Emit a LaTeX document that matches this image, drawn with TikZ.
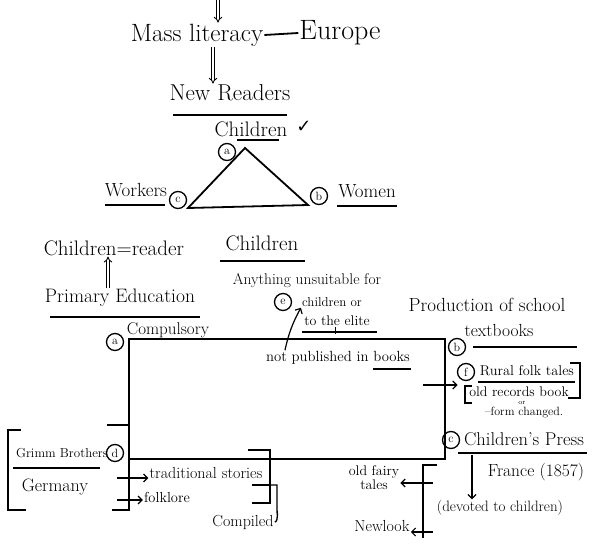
\documentclass[tikz,border=0pt]{standalone}
\usepackage{fontspec}
\newfontfamily\symfont{DejaVu Sans}
\usetikzlibrary{arrows.meta}
\newcommand{\fsz}[1]{\fontsize{#1}{#1}\selectfont}
\tikzset{
  txt/.style={inner sep=1pt, align=center},
  uline/.style={line width=1.3pt},
  pen/.style={line width=1.8pt},
  circ/.style={circle, draw, line width=1.3pt, inner sep=0pt, minimum size=17pt, font=\fsz{12}},
  dbl/.style={double, double distance=2pt, line width=0.9pt, -{Implies}},
  arr/.style={line width=1.2pt, -{Straight Barb[length=4pt]}}
}
\begin{document}
\begin{tikzpicture}[x=1pt, y=-1pt]
    \fill[white] (0,0) rectangle (605,551);
    \useasboundingbox (0,0) rectangle (605,551);

    % Mass literacy -- Europe
    \coordinate (topin) at (218,0);
    \coordinate (dn) at (213,0);
    \node[txt, font=\fsz{25}] (mass) at (197,35) {Mass literacy};
    \node[txt, font=\fsz{28}] (europe) at (340,33) {Europe};
    \draw[dbl] (topin) -- (topin |- mass.north);
    \draw[pen] (mass.east) -- (europe.west);

    % New Readers
    \node[txt, font=\fsz{23}] (readers) at (230,93) {New Readers};
    \draw[dbl] (dn |- mass.south) -- (dn |- readers.north);
    \draw[uline] (173,115) -- (287,115);

    % Children triangle
    \node[txt, font=\fsz{21}] (kids) at (251,129) {Children};
    \node[txt, font=\fsz{18}\symfont] (tick) at (304,127) {✓};
    \draw[uline] (237,140) -- (279,140);
    \coordinate (apex) at (245,148);
    \coordinate (lv) at (188,208);
    \coordinate (rv) at (308,205);
    \draw[pen] (apex) -- (lv) -- (rv) -- cycle;
    \node[circ] (ta) at (227,152) {a};
    \node[circ] (tc) at (178,200) {c};
    \node[circ] (tb) at (319,196) {b};
    \node[txt, font=\fsz{19}] (workers) at (136,190) {Workers};
    \draw[uline] (105,205) -- (165,205);
    \node[txt, font=\fsz{19}] (women) at (367,191) {Women};
    \draw[uline] (337,206) -- (397,206);

    % Children = reader, Primary Education
    \node[txt, font=\fsz{21}] (kidread) at (114,248) {Children=reader};
    \node[txt, font=\fsz{21}] (kids2) at (262,243) {Children};
    \draw[uline] (220,261) -- (305,261);
    \node[txt, font=\fsz{19.5}] (primary) at (120,298) {Primary Education};
    \coordinate (up) at (108,0);
    \draw[dbl] (up |- primary.north) -- (up |- kidread.south);
    \draw[uline] (50,317) -- (200,317);
    \node[txt, font=\fsz{17}] (compul) at (168,330) {Compulsory};

    % Rectangle
    \coordinate (tl) at (129,339);
    \coordinate (tr) at (445,339);
    \coordinate (br) at (445,459);
    \coordinate (bl) at (129,459);
    \draw[pen] (tl) -- (tr) -- (br) -- (bl) -- cycle;
    \node[circ] (ra) at (115,342) {a};

    % Anything unsuitable ...
    \node[txt, font=\fsz{15.5}] (unsuit) at (307,281) {Anything unsuitable for};
    \node[txt, font=\fsz{13}] (childor) at (332,302) {children or};
    \node[circ] (re) at (283,302) {e};
    \node[txt, font=\fsz{14}] (elite) at (337,321) {to the elite};
    \draw[uline] (302,332) -- (377,332);
    \node[txt, font=\fsz{14.7}] (notpub) at (338,358) {not published in books};
    \draw[uline] (373,369) -- (411,369);
    \draw[arr] ([xshift=20pt]notpub.north west) to[bend left=8] (childor.south west);
    \draw[line width=1pt] (elite.south -| 335,0) -- ++(0,7);

    % Production of school textbooks
    \node[txt, font=\fsz{19}] (prod) at (487,305) {Production of school};
    \node[txt, font=\fsz{17.5}] (textb) at (499,330) {textbooks};
    \draw[uline] (473,347) -- (577,347);
    \node[circ] (rb) at (457,347) {b};

    % Rural folk tales
    \coordinate (fin) at (423,385);
    \node[circ] (rf) at (466,372) {f};
    \node[txt, font=\fsz{14.3}] (rural) at (527,371) {Rural folk tales};
    \draw[uline] (478,382) -- (575,382);
    \node[txt, font=\fsz{14}] (records) at (519,392) {old records book};
    \draw[arr] (fin) -- ([xshift=-2pt]rf.south west |- fin);
    \draw[uline] (472,386) -- (465,386) -- (465,403) -- (472,403);
    \draw[uline] (570,363) -- (580,363) -- (580,398) -- (568,398);
    \node[txt, font=\fsz{7}] (ornote) at (522,403) {or};
    \node[txt, font=\fsz{12}] (changed) at (524,413) {--form changed.};

    % Children's Press
    \node[circ] (rc) at (451,440) {c};
    \node[txt, font=\fsz{18.5}] (press) at (524,439) {Children's Press};
    \draw[uline] (458,453) -- (587,453);
    \node[txt, font=\fsz{17.5}] (france) at (536,472) {France (1857)};
    \node[txt, font=\fsz{15}] (devoted) at (500,508) {(devoted to children)};
    \coordinate (pdown) at (472,0);
    \draw[arr] (pdown |- press.south) ++(0,8) -- (pdown |- devoted.north);

    % old fairy tales / Newlook
    \node[txt, font=\fsz{14}] (fairy) at (374,478) {old fairy\\tales};
    \node[txt, font=\fsz{16}] (newlook) at (382,526) {Newlook};
    \coordinate (fv) at (423,465);
    \coordinate (fvb) at (423,538);
    \draw[uline] (437,465) -- (fv) -- (fvb);
    \draw[arr] (433,483) -- (fairy.east |- 0,483);
    \draw[arr] (433,532) -- (newlook.east |- 0,532);

    % Grimm Brothers
    \node[txt, font=\fsz{13}] (grimm) at (62,453) {Grimm Brothers};
    \draw[uline] (13,468) -- (100,468);
    \node[txt, font=\fsz{18}] (germany) at (55,487) {Germany};
    \draw[uline] (21,430) -- (8,430) -- (8,510) -- (26,510);
    \node[circ] (rd) at (115,453) {d};
    \draw[uline] (107,425) -- (tl |- 0,425);

    % traditional stories, folklore
    \node[txt, font=\fsz{16}] (trad) at (206,473) {traditional stories};
    \node[txt, font=\fsz{14.5}] (folk) at (167,497) {folklore};
    \draw[uline] (bl) -- (129,510) -- (112,510);
    \draw[arr] (117,478) -- (trad.west |- 0,478);
    \draw[arr] (117,500) -- (folk.west |- 0,500);

    % Compiled
    \node[txt, font=\fsz{16}] (compiled) at (243,522) {Compiled};
    \draw[uline] (248,450) -- (270,450) -- (270,503) -- (252,503);
    \draw[uline] (252,485) -- (270,485);
    \draw[uline] (270,485) -- (277,485) -- (277,512) to[out=90,in=0] (compiled.east);
\end{tikzpicture}
\end{document}
